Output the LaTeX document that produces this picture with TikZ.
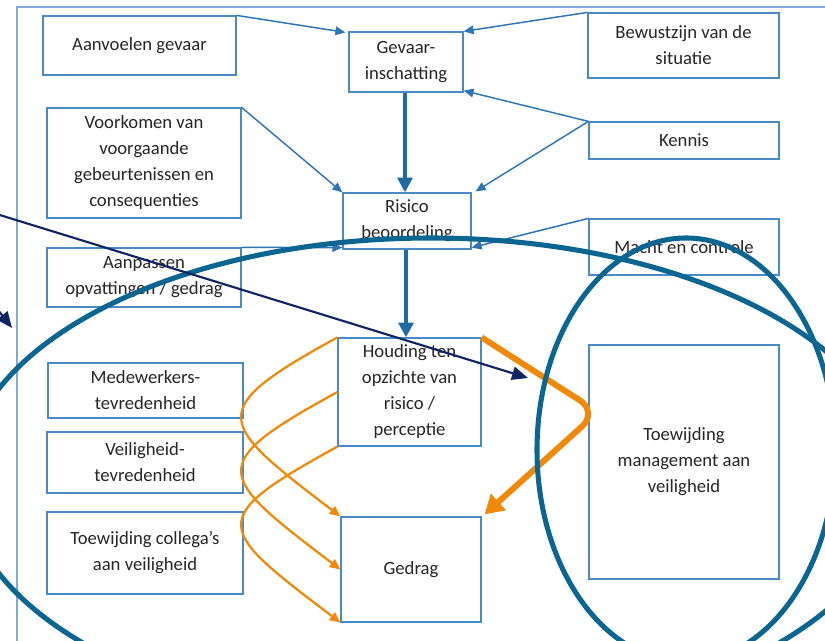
\documentclass[tikz,border=0pt]{standalone}
\usepackage{fontspec}
\setmainfont{Carlito}
\usetikzlibrary{arrows.meta,calc}
\definecolor{boxc}{HTML}{4A8AC4}
\definecolor{arrc}{HTML}{2E75B6}
\definecolor{thickc}{HTML}{1F6AA5}
\definecolor{ellc}{HTML}{0A6591}
\definecolor{navyc}{HTML}{0E2464}
\definecolor{orc}{HTML}{F0890A}
\definecolor{framec}{HTML}{7FA9D6}
\definecolor{txtc}{HTML}{262626}
\tikzset{
  bx/.style 2 args={draw=boxc, line width=0.9pt, fill=white, inner sep=0pt,
    align=center, text=txtc, font=\fontsize{14}{19.5}\selectfont,
    minimum width=#1*0.75pt, minimum height=#2*0.75pt},
  thin/.style={draw=arrc, line width=1.1pt, -{Triangle[length=7.5pt,width=6.5pt]}},
  thick/.style={draw=thickc, line width=3pt, -{Triangle[length=11pt,width=11pt]}},
  ell/.style={draw=ellc, line width=3.8pt},
  navy/.style={draw=navyc, line width=1.6pt, -{Triangle[length=12pt,width=10pt]}},
  othin/.style={draw=orc, line width=1.7pt, -{Triangle[length=8pt,width=7pt]}},
  othick/.style={draw=orc, line width=4.5pt, rounded corners=16pt, -{Triangle[length=14pt,width=16pt]}},
  frame/.style={draw=framec, line width=0.8pt}
}
\begin{document}
\begin{tikzpicture}[x=0.75pt, y=-0.75pt]
\useasboundingbox (0,0) rectangle (825,641);
\clip (0,0) rectangle (825,641);
\draw[frame] (17,7) rectangle (840,660);

\node[bx={193}{59}] (aanv) at (139.5,45.5) {Aanvoelen gevaar};
\node[bx={114}{60}] (gev) at (406,62) {Gevaar-\\inschatting};
\node[bx={191}{65}] (bew) at (683.5,45.5) {Bewustzijn van de\\situatie};
\node[bx={194}{110}] (voor) at (144,163) {Voorkomen van\\voorgaande\\gebeurtenissen en\\consequenties};
\node[bx={190}{37}] (ken) at (684,140.5) {Kennis};
\node[bx={128}{56}] (ris) at (407,221) {Risico\\beoordeling};
\node[bx={194}{59}] (aanp) at (144,277.5) {Aanpassen\\opvattingen / gedrag};
\node[bx={190}{56}] (macht) at (684,247) {Macht en controle};
\node[bx={143}{108}] (houd) at (409.5,392) {Houding ten\\opzichte van\\risico /\\perceptie};
\node[bx={195}{55}] (mede) at (145.5,390.5) {Medewerkers-\\tevredenheid};
\node[bx={196}{61}] (veil) at (145,462.5) {Veiligheid-\\tevredenheid};
\node[bx={196}{82}] (toec) at (145,553) {Toewijding collega’s\\aan veiligheid};
\node[bx={140}{105}] (gedr) at (411,569.5) {Gedrag};
\node[bx={190}{234}] (toem) at (684,462) {Toewijding\\management aan\\veiligheid};

% thin blue connectors
\draw[thin] (aanv.north east) -- ($(gev.north west)+(-3,1)$);
\draw[thin] (bew.north west) -- (gev.north east);
\draw[thin] (ken.north west) -- ($(gev.south east)+(0,-2)$);
\draw[thin] (ken.north west) -- ($(ris.north east)+(4,-1)$);
\draw[thin] (voor.north east) -- (ris.north west);
\draw[thin] (aanp.north east) -- ($(ris.south west)+(0,-2)$);
\draw[thin] (macht.north west) -- ($(ris.south east)+(0,-2)$);

% thick blue connectors
\draw[thick] ($(gev.south)+(-1,0)$) -- ($(gev.south |- ris.north)+(-1,0)$);
\draw[thick] ($(ris.south)+(-1,0)$) -- ($(ris.south |- houd.north)+(-1,0)$);

% orange curves
\draw[othin] (houd.north west) .. controls ($(houd.north west)+(-133,73)$) and ($(gedr.north west)+(-125,-95)$) .. (gedr.north west);
\draw[othin] (houd.west) .. controls ($(houd.west)+(-133,73)$) and ($(gedr.west)+(-125,-95)$) .. (gedr.west);
\draw[othin] (houd.south west) .. controls ($(houd.south west)+(-133,73)$) and ($(gedr.south west)+(-125,-95)$) .. (gedr.south west);
\draw[othick] (houd.north east) -- (598,412) -- ($(gedr.north east)+(3,-2)$);

% big ellipses
\draw[ell] (431,481) ellipse [x radius=467, y radius=243];
\draw[ell] (686,450) ellipse [x radius=149, y radius=212];

% navy arrows
\coordinate (n0) at (-10,212);
\coordinate (n1) at (528,378);
\coordinate (n2) at (-16,292);
\coordinate (n3) at (12,328);
\draw[navy] (n0) -- (n1);
\draw[navy] (n2) -- (n3);
\end{tikzpicture}
\end{document}
